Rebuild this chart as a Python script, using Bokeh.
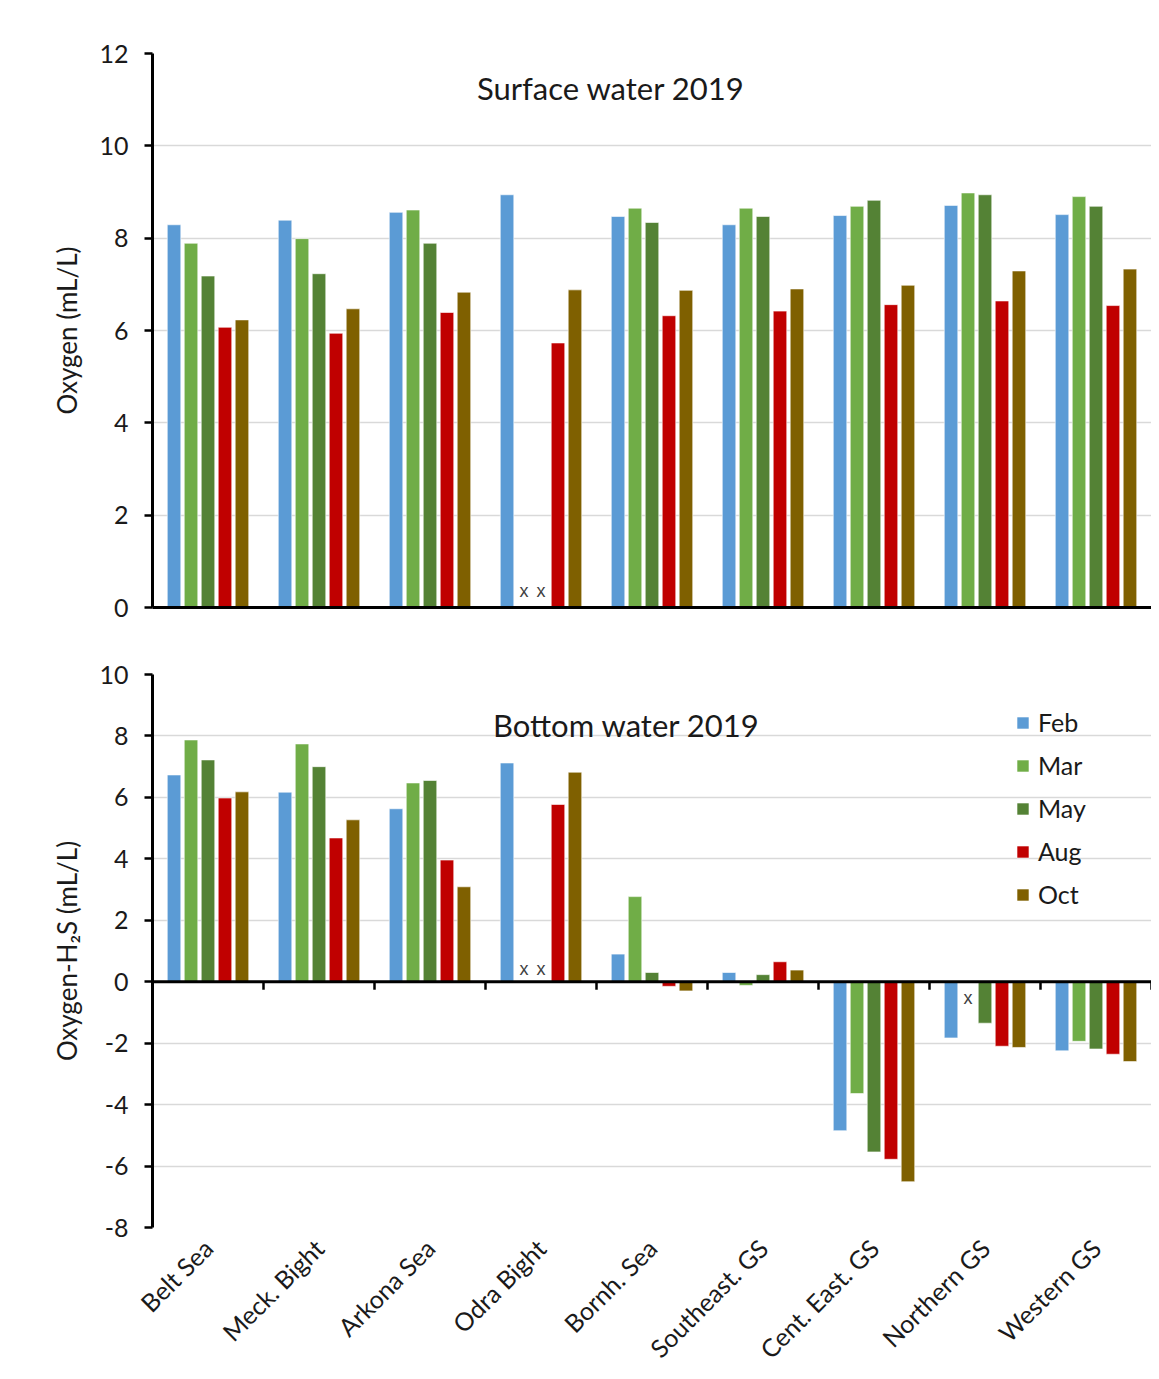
import math
from bokeh.plotting import figure
from bokeh.layouts import column
from bokeh.models import (Range1d, FixedTicker, Label, Legend, LegendItem,
                          ColumnDataSource, Span)
from bokeh.embed import file_html
from bokeh.resources import INLINE

NaN = float("nan")

stations = ["Belt Sea", "Meck. Bight", "Arkona Sea", "Odra Bight", "Bornh. Sea",
            "Southeast. GS", "Cent. East. GS", "Northern GS", "Western GS"]
months = ["Feb", "Mar", "May", "Aug", "Oct"]
colors = ["#5b9bd5", "#70ad47", "#548235", "#c00000", "#7f6000"]

# Surface water 2019 (mL/L)
surf_feb = [8.29, 8.39, 8.56, 8.94, 8.47, 8.29, 8.49, 8.71, 8.51]
surf_mar = [7.89, 7.99, 8.61, NaN, 8.65, 8.65, 8.69, 8.98, 8.90]
surf_may = [7.18, 7.23, 7.89, NaN, 8.34, 8.47, 8.82, 8.94, 8.69]
surf_aug = [6.07, 5.94, 6.39, 5.73, 6.32, 6.42, 6.56, 6.64, 6.54]
surf_oct = [6.23, 6.47, 6.83, 6.88, 6.87, 6.90, 6.98, 7.29, 7.33]

# Bottom water 2019 (mL/L, oxygen minus H2S)
bot_feb = [6.73, 6.17, 5.63, 7.12, 0.90, 0.30, -4.85, -1.83, -2.25]
bot_mar = [7.87, 7.74, 6.47, NaN, 2.77, -0.12, -3.64, NaN, -1.94]
bot_may = [7.22, 7.00, 6.55, NaN, 0.30, 0.23, -5.54, -1.35, -2.19]
bot_aug = [5.98, 4.68, 3.96, 5.77, -0.15, 0.65, -5.78, -2.10, -2.36]
bot_oct = [6.18, 5.27, 3.09, 6.82, -0.30, 0.38, -6.51, -2.14, -2.60]

surf_ticks = [0, 2, 4, 6, 8, 10, 12]
bot_ticks = [-8, -6, -4, -2, 0, 2, 4, 6, 8, 10]

FONT = "Lato"
TXT = "#1a1a1a"
GRID = "#d9d9d9"
OFFS = 0.153
BW = 0.122
FRAME_H = 553


def style_common(p, ticks):
    p.xgrid.grid_line_color = None
    p.ygrid.grid_line_color = GRID
    p.ygrid.grid_line_width = 1.5
    p.ygrid.ticker = FixedTicker(ticks=ticks)
    p.outline_line_color = None
    ya = p.yaxis[0]
    ya.ticker = FixedTicker(ticks=ticks)
    ya.major_label_overrides = {t: str(t) for t in ticks}
    ya.axis_line_width = 3
    ya.axis_line_color = "black"
    ya.major_tick_line_width = 2.5
    ya.major_tick_out = 8
    ya.major_tick_in = 0
    ya.minor_tick_line_color = None
    ya.major_label_text_font = FONT
    ya.major_label_text_font_size = "25px"
    ya.major_label_text_color = TXT
    ya.major_label_standoff = 16
    ya.axis_label_text_font = FONT
    ya.axis_label_text_font_size = "26px"
    ya.axis_label_text_font_style = "normal"
    ya.axis_label_text_color = TXT
    ya.axis_label_standoff = 13


def add_bars(p, series, xmark_y):
    renderers = []
    for j, (vals, col) in enumerate(zip(series, colors)):
        xs = [i + 0.5 + (j - 2) * OFFS for i in range(len(stations))]
        src = ColumnDataSource(dict(x=xs, top=vals))
        r = p.vbar(x="x", top="top", bottom=0, width=BW, source=src,
                   fill_color=col, line_color="white", line_width=0.6)
        renderers.append(r)
        mx, my = [], []
        for i, v in enumerate(vals):
            if isinstance(v, float) and math.isnan(v):
                others = [s[i] for s in series if not math.isnan(s[i])]
                mx.append(xs[i])
                my.append(xmark_y if sum(others) >= 0 else -xmark_y * 1.3)
        if mx:
            p.text(x=mx, y=my, text=["x"] * len(mx), text_align="center",
                   text_baseline="middle", text_font_size="18px",
                   text_color="#404040")
    return renderers


# ---------------- Top: surface water ----------------
top = figure(width=1151, height=634, x_range=Range1d(0, 9), y_range=Range1d(0, 12),
             output_backend="svg", toolbar_location=None,
             min_border_left=152, min_border_right=0, min_border_top=53,
             min_border_bottom=27)
style_common(top, surf_ticks)
top.yaxis[0].axis_label = "Oxygen (mL/L)"
xa = top.xaxis[0]
xa.ticker = FixedTicker(ticks=[])
xa.axis_line_width = 3
xa.axis_line_color = "black"
xa.major_tick_line_color = None
xa.minor_tick_line_color = None
add_bars(top, [surf_feb, surf_mar, surf_may, surf_aug, surf_oct], 0.36)
top.add_layout(Label(x=4.13, y=11.25, text="Surface water 2019", text_align="center",
                     text_baseline="middle", text_font=FONT, text_font_size="31px",
                     text_color=TXT))

# ---------------- Bottom: bottom water ----------------
bot = figure(width=1151, height=743, x_range=Range1d(0, 9), y_range=Range1d(-8, 10),
             output_backend="svg", toolbar_location=None,
             min_border_left=152, min_border_right=0, min_border_top=40,
             min_border_bottom=150)
style_common(bot, bot_ticks)
bot.yaxis[0].axis_label = "Oxygen-H\u2082S (mL/L)"
lab = bot.xaxis[0]
lab.ticker = FixedTicker(ticks=[i + 0.5 for i in range(len(stations))])
lab.major_label_overrides = {i + 0.5: s for i, s in enumerate(stations)}
lab.major_label_orientation = math.pi / 4
lab.axis_line_color = None
lab.major_tick_line_color = None
lab.minor_tick_line_color = None
lab.major_label_text_font = FONT
lab.major_label_text_font_size = "25px"
lab.major_label_text_color = TXT
lab.major_label_standoff = 10

# zero line with category boundary tick marks below it
bot.add_layout(Span(location=0, dimension="width", line_color="black", line_width=3))
tick_len = 8 * (bot_ticks[-1] - bot_ticks[0]) / FRAME_H
bounds = list(range(1, len(stations) + 1))
bot.segment(x0=bounds, x1=bounds, y0=[0] * len(bounds), y1=[-tick_len] * len(bounds),
            line_color="black", line_width=2.5)

rs = add_bars(bot, [bot_feb, bot_mar, bot_may, bot_aug, bot_oct], 0.42)
bot.add_layout(Label(x=4.27, y=8.37, text="Bottom water 2019", text_align="center",
                     text_baseline="middle", text_font=FONT, text_font_size="31px",
                     text_color=TXT))

legend = Legend(items=[LegendItem(label=m, renderers=[r]) for m, r in zip(months, rs)],
                location=(863, 318), padding=0, margin=0,
                border_line_color=None, background_fill_alpha=0,
                glyph_width=15, glyph_height=15, label_standoff=8,
                label_height=30, spacing=13,
                label_text_font=FONT, label_text_font_size="25px",
                label_text_color=TXT)
bot.add_layout(legend)

layout = column(top, bot, spacing=0)
open("out.html", "w").write(file_html(layout, INLINE))
